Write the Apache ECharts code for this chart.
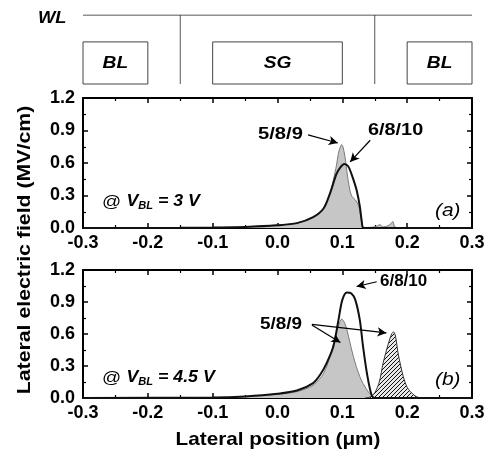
<!DOCTYPE html>
<html><head><meta charset="utf-8">
<script src="https://cdn.jsdelivr.net/npm/echarts@6/dist/echarts.min.js"></script>
<style>html,body{margin:0;padding:0;background:#fff}#c{width:488px;height:460px}</style>
</head><body><div id="c"></div><script>
// ---- data ----
const xTicks = [-0.3, -0.2, -0.1, 0.0, 0.1, 0.2, 0.3];
const yTicks = [0.0, 0.3, 0.6, 0.9, 1.2];
// panel (a) VBL = 3 V
const a589X = [-0.3, -0.15, -0.1, -0.05, 0.0, 0.03, 0.055, 0.071, 0.081, 0.086, 0.091, 0.094, 0.097, 0.099, 0.101, 0.104, 0.107, 0.109, 0.112, 0.115, 0.12, 0.125, 0.128, 0.131, 0.135, 0.15, 0.158, 0.163, 0.17, 0.175, 0.178, 0.181, 0.19, 0.3];
const a589Y = [0, 0.002, 0.005, 0.012, 0.028, 0.045, 0.1, 0.18, 0.32, 0.44, 0.58, 0.69, 0.75, 0.77, 0.75, 0.66, 0.52, 0.44, 0.34, 0.29, 0.26, 0.21, 0.12, 0.02, 0.005, 0.01, 0.03, 0.01, 0.02, 0.04, 0.06, 0.01, 0.003, 0];
const a6810X = [-0.3, -0.15, -0.1, -0.05, 0.0, 0.03, 0.055, 0.071, 0.081, 0.091, 0.097, 0.103, 0.109, 0.114, 0.118, 0.122, 0.127, 0.13, 0.133, 0.3];
const a6810Y = [0, 0.002, 0.004, 0.01, 0.025, 0.045, 0.1, 0.18, 0.32, 0.5, 0.56, 0.59, 0.57, 0.5, 0.43, 0.35, 0.2, 0.06, 0, 0];
// panel (b) VBL = 4.5 V
const b589X = [-0.3, -0.1, -0.05, 0.0, 0.03, 0.055, 0.071, 0.081, 0.091, 0.096, 0.099, 0.103, 0.107, 0.117, 0.127, 0.138, 0.148, 0.155, 0.3];
const b589Y = [0, 0.004, 0.012, 0.035, 0.06, 0.12, 0.23, 0.39, 0.61, 0.71, 0.74, 0.71, 0.64, 0.39, 0.2, 0.075, 0.01, 0, 0];
const bHatchX = [0.135, 0.143, 0.15, 0.157, 0.163, 0.171, 0.176, 0.179, 0.182, 0.186, 0.194, 0.2, 0.205, 0.212, 0.22];
const bHatchY = [0, 0.01, 0.05, 0.15, 0.33, 0.51, 0.6, 0.62, 0.58, 0.42, 0.2, 0.1, 0.06, 0.02, 0];
const b6810X = [-0.3, -0.1, -0.05, 0.0, 0.03, 0.055, 0.066, 0.076, 0.086, 0.094, 0.1, 0.107, 0.114, 0.12, 0.127, 0.132, 0.138, 0.145, 0.15, 0.3];
const b6810Y = [0, 0.005, 0.015, 0.04, 0.07, 0.14, 0.22, 0.33, 0.48, 0.73, 0.92, 0.99, 0.98, 0.92, 0.73, 0.48, 0.23, 0.03, 0, 0];
// schematic
const boxLabels = ['BL', 'SG', 'BL'];
const boxStart = [-0.3, -0.1, 0.2];
const boxEnd = [-0.2, 0.1, 0.3];
const wallX = [-0.15, 0.15];

const zip = (xs, ys) => xs.map((x, i) => [x, ys[i]]);
const FONT = '"Liberation Sans", Arial, sans-serif';

// hatch pattern
const pc = document.createElement('canvas');
pc.width = 4; pc.height = 4;
const g = pc.getContext('2d');
g.fillStyle = '#e8e8e8'; g.fillRect(0, 0, 4, 4);
g.strokeStyle = '#111'; g.lineWidth = 1;
g.beginPath();
g.moveTo(-1, 5); g.lineTo(5, -1);
g.moveTo(-3, 3); g.lineTo(3, -3);
g.moveTo(1, 7); g.lineTo(7, 1);
g.stroke();

const chart = echarts.init(document.getElementById('c'), null, {renderer: 'canvas'});

function xAx(gi, pos, labels) {
  return {
    type: 'value', gridIndex: gi, position: pos, min: -0.3, max: 0.3, interval: 0.1,
    axisLine: {show: true, onZero: false, lineStyle: {color: '#000', width: 2}},
    axisTick: {show: true, inside: true, length: 5, lineStyle: {color: '#000', width: 1.5}},
    minorTick: {show: true, splitNumber: 2, length: 3, lineStyle: {color: '#000', width: 1.2}},
    splitLine: {show: false},
    axisLabel: {show: labels, color: '#000', fontWeight: 'bold', fontSize: 18, fontFamily: FONT, margin: 6,
      formatter: v => v.toFixed(1)}
  };
}
function yAx(gi, pos, labels) {
  return {
    type: 'value', gridIndex: gi, position: pos, min: 0, max: 1.2, interval: 0.3,
    axisLine: {show: true, onZero: false, lineStyle: {color: '#000', width: 2}},
    axisTick: {show: true, inside: true, length: 5, lineStyle: {color: '#000', width: 1.5}},
    minorTick: {show: true, splitNumber: 2, length: 3, lineStyle: {color: '#000', width: 1.2}},
    splitLine: {show: false},
    axisLabel: {show: labels, color: '#000', fontWeight: 'bold', fontSize: 18, fontFamily: FONT, margin: 8,
      formatter: v => v.toFixed(1)}
  };
}

function arrow(from, to) {
  return [{coord: from}, {coord: to}];
}
const mlBase = {
  silent: true, animation: false, symbol: ['none', 'arrow'], symbolSize: [7, 9],
  lineStyle: {color: '#000', width: 1.2, type: 'solid'}, label: {show: false}
};

function txt(x, y, text, font, sx, extra) {
  return Object.assign({type: 'text', x: x, y: y, scaleX: sx || 1,
    style: {text: text, font: font, fill: '#000', verticalAlign: 'middle'}}, extra || {});
}

const option = {
  animation: false,
  backgroundColor: '#fff',
  grid: [
    {left: 83, top: 15, width: 389, height: 69},
    {left: 83, top: 98, width: 389, height: 130},
    {left: 83, top: 270, width: 389, height: 128}
  ],
  xAxis: [
    {type: 'value', gridIndex: 0, min: -0.3, max: 0.3, show: false},
    xAx(1, 'bottom', true), xAx(1, 'top', false),
    xAx(2, 'bottom', true), xAx(2, 'top', false)
  ],
  yAxis: [
    {type: 'value', gridIndex: 0, min: 0, max: 1, show: false},
    yAx(1, 'left', true), yAx(1, 'right', false),
    yAx(2, 'left', true), yAx(2, 'right', false)
  ],
  series: [
    // schematic boxes
    {
      type: 'custom', xAxisIndex: 0, yAxisIndex: 0, silent: true,
      data: boxLabels.map((l, i) => [boxStart[i], boxEnd[i], l]),
      renderItem(params, api) {
        const p0 = api.coord([api.value(0), 0.61]);
        const p1 = api.coord([api.value(1), 0]);
        const cx = (p0[0] + p1[0]) / 2, cy = (p0[1] + p1[1]) / 2 + 1;
        return {type: 'group', children: [
          {type: 'rect', shape: {x: p0[0], y: p0[1], width: p1[0] - p0[0], height: p1[1] - p0[1]},
            style: {fill: '#fff', stroke: '#444', lineWidth: 1}},
          {type: 'text', x: cx, y: cy, scaleX: 1.2, style: {text: boxLabels[params.dataIndex], x: 0, y: 0,
            align: 'center', verticalAlign: 'middle', fill: '#000',
            font: 'italic bold 16px ' + FONT}}
        ]};
      }
    },
    // schematic walls
    {
      type: 'custom', xAxisIndex: 0, yAxisIndex: 0, silent: true,
      data: wallX.map(x => [x]),
      renderItem(params, api) {
        const p0 = api.coord([api.value(0), 1]);
        const p1 = api.coord([api.value(0), 0]);
        return {type: 'line', shape: {x1: p0[0], y1: p0[1], x2: p1[0], y2: p1[1]}, style: {stroke: '#555', lineWidth: 1}};
      }
    },
    // WL line
    {
      type: 'line', xAxisIndex: 0, yAxisIndex: 0, silent: true, symbol: 'none',
      data: [[-0.3, 1], [0.3, 1]], lineStyle: {color: '#222', width: 1.2}
    },
    // panel a
    {
      name: '5/8/9 a', type: 'line', xAxisIndex: 1, yAxisIndex: 1, symbol: 'none', smooth: 0.3, z: 2,
      data: zip(a589X, a589Y), lineStyle: {color: '#7a7a7a', width: 1},
      areaStyle: {color: '#c6c6c6', opacity: 1},
      markLine: Object.assign({data: [arrow([0.047, 0.86], [0.093, 0.785]), arrow([0.143, 0.81], [0.112, 0.61])]}, mlBase)
    },
    {
      name: '6/8/10 a', type: 'line', xAxisIndex: 1, yAxisIndex: 1, symbol: 'none', smooth: 0.3, z: 3,
      data: zip(a6810X, a6810Y), lineStyle: {color: '#111', width: 2}
    },
    // panel b
    {
      name: '5/8/9 b', type: 'line', xAxisIndex: 3, yAxisIndex: 3, symbol: 'none', smooth: 0.3, z: 2,
      data: zip(b589X, b589Y), lineStyle: {color: '#7a7a7a', width: 1},
      areaStyle: {color: '#c6c6c6', opacity: 1},
      markLine: Object.assign({data: [arrow([0.053, 0.684], [0.097, 0.52]), arrow([0.053, 0.69], [0.168, 0.61]), arrow([0.153, 1.09], [0.122, 1.045])]}, mlBase)
    },
    {
      name: '5/8/9 b hatch', type: 'line', xAxisIndex: 3, yAxisIndex: 3, symbol: 'none', smooth: 0.3, z: 2,
      data: zip(bHatchX, bHatchY), lineStyle: {color: '#333', width: 1},
      areaStyle: {color: {image: pc, repeat: 'repeat'}, opacity: 1}
    },
    {
      name: '6/8/10 b', type: 'line', xAxisIndex: 3, yAxisIndex: 3, symbol: 'none', smooth: 0.3, z: 3,
      data: zip(b6810X, b6810Y), lineStyle: {color: '#111', width: 2}
    }
  ],
  graphic: [
    txt(38, 19, 'WL', 'italic bold 16px ' + FONT, 1.15),
    {type: 'text', x: 25, y: 250, rotation: Math.PI / 2, scaleX: 1.12,
      style: {text: 'Lateral electric field (MV/cm)', font: 'bold 19px ' + FONT, fill: '#000', align: 'center', verticalAlign: 'middle'}},
    {type: 'text', x: 278, y: 440, scaleX: 1.09,
      style: {text: 'Lateral position (\u03bcm)', font: 'bold 19px ' + FONT, fill: '#000', align: 'center', verticalAlign: 'middle'}},
    txt(258, 135, '5/8/9', 'bold 16px ' + FONT, 1.26),
    txt(368, 131, '6/8/10', 'bold 16px ' + FONT, 1.24),
    txt(380, 282, '6/8/10', 'bold 16px ' + FONT, 1.06),
    txt(260, 325, '5/8/9', 'bold 16px ' + FONT, 1.18),
    {type: 'text', x: 102, y: 202, scaleX: 1.11, style: {
      text: '{n|@ }{v|V}{s|BL}{v| = 3 V}', verticalAlign: 'middle',
      rich: {n: {font: '17px ' + FONT, fill: '#000'}, v: {font: 'italic bold 16px ' + FONT, fill: '#000'},
        s: {font: 'italic bold 10px ' + FONT, fill: '#000', verticalAlign: 'bottom', padding: [8, 0, 0, 0]}}}},
    {type: 'text', x: 102, y: 378, scaleX: 1.11, style: {
      text: '{n|@ }{v|V}{s|BL}{v| = 4.5 V}', verticalAlign: 'middle',
      rich: {n: {font: '17px ' + FONT, fill: '#000'}, v: {font: 'italic bold 16px ' + FONT, fill: '#000'},
        s: {font: 'italic bold 10px ' + FONT, fill: '#000', verticalAlign: 'bottom', padding: [8, 0, 0, 0]}}}},
    txt(435, 211, '(a)', 'italic 19px ' + FONT, 1.1),
    txt(435, 380, '(b)', 'italic 19px ' + FONT, 1.1)
  ]
};
chart.setOption(option);
</script></body></html>
